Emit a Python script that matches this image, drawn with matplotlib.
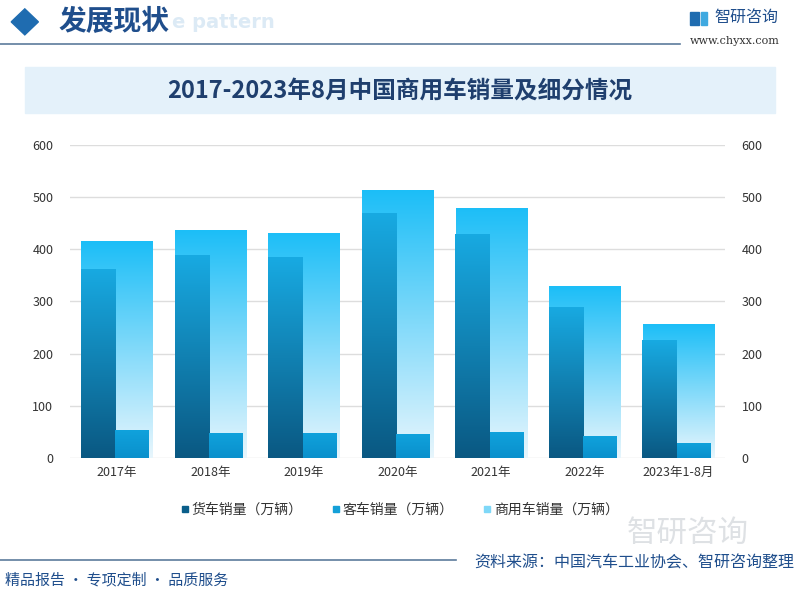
import numpy as np
import matplotlib
matplotlib.use('Agg')
import matplotlib.pyplot as plt
from matplotlib.colors import LinearSegmentedColormap
from matplotlib.lines import Line2D
from matplotlib.patches import Rectangle, Polygon

plt.rcParams['font.family'] = ['Noto Sans CJK SC', 'DejaVu Sans']

years = ['2017年', '2018年', '2019年', '2020年', '2021年', '2022年', '2023年1-8月']
commercial = [416, 437, 432, 513, 480, 330, 257]
truck = [363, 389, 385, 469, 430, 290, 226]
bus = [52.5, 48, 48, 45.5, 50, 41, 29]
labels = ['货车销量（万辆）', '客车销量（万辆）', '商用车销量（万辆）']

title = '2017-2023年8月中国商用车销量及细分情况'
source = '资料来源：中国汽车工业协会、智研咨询整理'
slogan = '精品报告 · 专项定制 · 品质服务'


def gradient_bars(ax, bars, top_color, bottom_color):
    cmap = LinearSegmentedColormap.from_list('g', [bottom_color, top_color])
    grad = np.linspace(0, 1, 256).reshape(-1, 1)
    for b in bars:
        x0, w, h = b.get_x(), b.get_width(), b.get_height()
        im = ax.imshow(grad, cmap=cmap, origin='lower', aspect='auto',
                       extent=(x0, x0 + w, 0, h), zorder=b.get_zorder())
        im.set_clip_path(b)
        b.set_facecolor('none')


fig = plt.figure(figsize=(8, 5.91), dpi=100)
fig.patch.set_facecolor('white')

# header
fig.patches.append(Polygon([[0.014, 0.963], [0.031, 0.985], [0.048, 0.963], [0.031, 0.941]],
                           closed=True, transform=fig.transFigure, color='#1F6CB0'))
fig.text(0.215, 0.962, 'e pattern', fontsize=14, fontweight='bold', color='#DCEAF5',
         va='center', ha='left', family='DejaVu Sans')
fig.text(0.073, 0.962, '发展现状', fontsize=20, fontweight='bold', color='#1F4E8C',
         va='center', ha='left')
fig.add_artist(Line2D([0.0, 0.85], [0.926, 0.926], transform=fig.transFigure,
                      color='#5C7C9C', lw=1.2))
fig.patches.append(Rectangle((0.862, 0.958), 0.012, 0.022, transform=fig.transFigure, color='#1F6CB0'))
fig.patches.append(Rectangle((0.876, 0.958), 0.008, 0.022, transform=fig.transFigure, color='#3FA9E0'))
fig.text(0.893, 0.970, '智研咨询', fontsize=11.5, color='#1F4E8C', va='center', ha='left')
fig.text(0.862, 0.931, 'www.chyxx.com', fontsize=8, color='#333333', va='center', ha='left',
         family='DejaVu Serif')

# title banner
fig.patches.append(Rectangle((0.031, 0.809), 0.938, 0.077, transform=fig.transFigure,
                             color='#E4F1FA', zorder=0))
fig.text(0.5, 0.846, title, fontsize=17, fontweight='bold', color='#1F3F6E',
         va='center', ha='center')

ax = fig.add_axes([0.0875, 0.2255, 0.81875, 0.529])
x = np.arange(len(years))

b_com = ax.bar(x, commercial, width=0.76, zorder=2)
b_truck = ax.bar(x - 0.2, truck, width=0.365, zorder=3)
b_bus = ax.bar(x + 0.165, bus, width=0.36, zorder=3)
gradient_bars(ax, b_com, '#1CBEF7', '#E8F6FD')
gradient_bars(ax, b_truck, '#18AAE2', '#0A5882')
gradient_bars(ax, b_bus, '#10A2DC', '#0A90CC')

ax.set_xlim(-0.5, len(years) - 0.5)
ax.set_ylim(0, 600)
ax.set_yticks(range(0, 601, 100))
ax.yaxis.grid(True, color='#DDDDDD', lw=1, zorder=0)
ax.set_axisbelow(True)
for s in ax.spines.values():
    s.set_visible(False)
ax.tick_params(axis='both', length=0, labelsize=9, colors='#333333')
ax.tick_params(axis='y', pad=12)
ax.set_xticks(x)
ax.set_xticklabels(years, fontsize=9)
ax.tick_params(axis='x', pad=6)

ax2 = ax.twinx()
ax2.set_ylim(0, 600)
ax2.set_yticks(range(0, 601, 100))
for s in ax2.spines.values():
    s.set_visible(False)
ax2.tick_params(axis='y', length=0, labelsize=9, colors='#333333', pad=12)

handles = [Line2D([], [], marker='s', ls='none', markersize=4, color=c)
           for c in ['#0A5E8A', '#14A0D8', '#7FD8F8']]
fig.legend(handles, labels, loc='center', bbox_to_anchor=(0.5, 0.137), ncol=3, frameon=False,
           fontsize=10, handlelength=0.5, handletextpad=0.2, columnspacing=2.2,
           labelcolor='#333333')

# footer
fig.add_artist(Line2D([0.0, 0.57], [0.052, 0.052], transform=fig.transFigure,
                      color='#5C7C9C', lw=1.2))
fig.text(0.993, 0.047, source, fontsize=11.5, color='#1F4E8C', va='center', ha='right')
fig.text(0.006, 0.018, slogan, fontsize=10.8, color='#1F4E8C', va='center', ha='left')
fig.text(0.86, 0.098, '智研咨询', fontsize=22, color='#C8CDD3', alpha=0.6, va='center', ha='center')

fig.savefig('out.png', dpi=100)
